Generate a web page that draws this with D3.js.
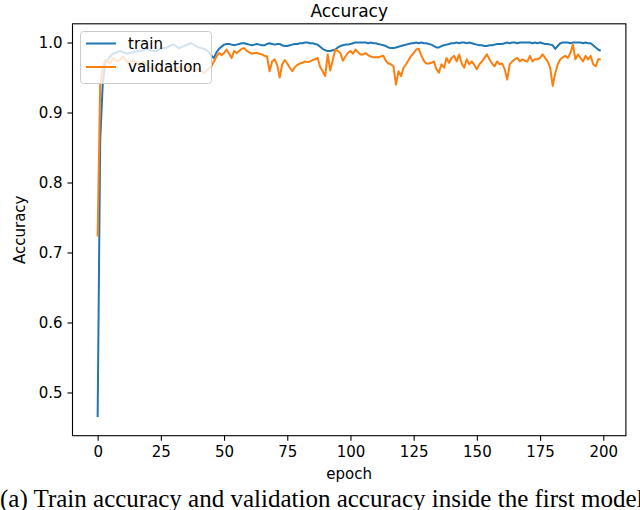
<!DOCTYPE html>
<html>
<head>
<meta charset="utf-8">
<script src="https://cdn.jsdelivr.net/npm/d3@7"></script>
<style>
  body { margin: 0; background: #fff; }
  svg { display: block; }
</style>
</head>
<body>
<svg id="chart" width="640" height="510"></svg>
<script>
// values, one per epoch (0..199)
const trainAcc = [
  0.465, 0.860, 0.940, 0.972, 0.975, 0.980, 0.984, 0.985, 0.987, 0.988,
  0.986, 0.985, 0.984, 0.985, 0.986, 0.987, 0.988, 0.988, 0.989, 0.990,
  0.990, 0.989, 0.988, 0.988, 0.989, 0.991, 0.992, 0.992, 0.994, 0.996,
  0.997, 0.995, 0.992, 0.993, 0.995, 0.996, 0.998, 0.999, 0.997, 0.995,
  0.993, 0.992, 0.991, 0.989, 0.986, 0.981, 0.978, 0.986, 0.991, 0.994,
  0.997, 0.998, 0.998, 0.997, 0.996, 0.997, 0.998, 0.999, 0.999, 0.998,
  0.997, 0.996, 0.997, 0.998, 0.997, 0.996, 0.996, 0.998, 0.999, 0.998,
  0.997, 0.998, 0.998, 0.996, 0.995, 0.995, 0.996, 0.997, 0.998, 0.998,
  0.999, 0.999, 1.000, 1.000, 0.999, 0.999, 0.998, 0.997, 0.994, 0.991,
  0.989, 0.988, 0.988, 0.989, 0.990, 0.993, 0.995, 0.996, 0.997, 0.997,
  0.998, 0.999, 1.000, 1.000, 1.000, 1.000, 1.000, 0.999, 1.000, 0.999,
  0.999, 0.998, 0.997, 0.996, 0.995, 0.993, 0.992, 0.992, 0.993, 0.994,
  0.995, 0.996, 0.997, 0.998, 0.999, 0.999, 1.000, 0.999, 1.000, 0.999,
  0.999, 0.998, 0.997, 0.995, 0.993, 0.993, 0.995, 0.996, 0.997, 0.998,
  0.999, 0.999, 1.000, 0.999, 1.000, 1.000, 0.999, 1.000, 0.999, 0.998,
  0.997, 0.996, 0.996, 0.995, 0.995, 0.996, 0.996, 0.997, 0.998, 0.998,
  0.998, 0.999, 1.000, 0.999, 1.000, 1.000, 0.999, 1.000, 1.000, 1.000,
  1.000, 1.000, 0.999, 1.000, 0.999, 1.000, 0.999, 0.998, 0.998, 0.997,
  0.996, 0.991, 0.995, 0.999, 1.000, 1.000, 1.000, 0.999, 1.000, 1.000,
  1.000, 1.000, 0.999, 1.000, 0.999, 0.999, 0.996, 0.993, 0.990, 0.988
]

const valAcc = [
  0.723, 0.940, 0.965, 0.975, 0.973, 0.970, 0.978, 0.975, 0.973, 0.976,
  0.980, 0.976, 0.971, 0.973, 0.975, 0.972, 0.968, 0.970, 0.973, 0.969,
  0.966, 0.963, 0.961, 0.964, 0.963, 0.961, 0.959, 0.962, 0.966, 0.963,
  0.959, 0.962, 0.965, 0.963, 0.961, 0.964, 0.966, 0.962, 0.959, 0.961,
  0.963, 0.960, 0.956, 0.960, 0.963, 0.966, 0.973, 0.980, 0.985, 0.982,
  0.985, 0.990, 0.984, 0.978, 0.988, 0.985, 0.988, 0.991, 0.992, 0.988,
  0.986, 0.984, 0.985, 0.985, 0.984, 0.983, 0.981, 0.980, 0.959, 0.973,
  0.976, 0.968, 0.950, 0.969, 0.975, 0.970, 0.964, 0.959, 0.965, 0.968,
  0.970, 0.971, 0.973, 0.972, 0.973, 0.975, 0.976, 0.978, 0.965, 0.959,
  0.952, 0.983, 0.960, 0.975, 0.990, 0.988, 0.985, 0.974, 0.980, 0.985,
  0.988, 0.984, 0.990, 0.986, 0.983, 0.983, 0.985, 0.982, 0.980, 0.979,
  0.979, 0.979, 0.980, 0.981, 0.974, 0.970, 0.969, 0.966, 0.940, 0.959,
  0.952, 0.964, 0.969, 0.975, 0.981, 0.985, 0.990, 0.991, 0.982, 0.974,
  0.970, 0.970, 0.971, 0.973, 0.962, 0.957, 0.969, 0.964, 0.978, 0.971,
  0.978, 0.981, 0.973, 0.983, 0.970, 0.964, 0.976, 0.969, 0.973, 0.968,
  0.962, 0.969, 0.973, 0.978, 0.983, 0.976, 0.970, 0.966, 0.973, 0.969,
  0.970, 0.962, 0.947, 0.969, 0.973, 0.976, 0.978, 0.973, 0.976, 0.974,
  0.973, 0.981, 0.973, 0.976, 0.976, 0.978, 0.983, 0.978, 0.973, 0.964,
  0.938, 0.956, 0.969, 0.976, 0.979, 0.981, 0.978, 0.985, 0.997, 0.976,
  0.983, 0.978, 0.973, 0.981, 0.976, 0.981, 0.969, 0.966, 0.976, 0.976
]

const xTicks = [0, 25, 50, 75, 100, 125, 150, 175, 200]
const yTicks = [0.5, 0.6, 0.7, 0.8, 0.9, 1.0]
const seriesNames = ["train", "validation"]
const seriesColors = ["#1f77b4", "#ff7f0e"]

const titleText = "Accuracy"
const xLabel = "epoch"
const yLabel = "Accuracy"
const captionText = "(a) Train accuracy and validation accuracy inside the first model"

const font = "DejaVu Sans, sans-serif"
const plot = { left: 72.5, right: 625.9, top: 23.8, bottom: 435.7 }

const svg = d3.select("#chart")
svg.append("rect").attr("width", 640).attr("height", 510).attr("fill", "white")

// matplotlib style 5% margins around the data
const nEpochs = trainAcc.length
const xPad = (nEpochs - 1) * 0.05
const allVals = trainAcc.concat(valAcc)
const yMin = d3.min(allVals), yMax = d3.max(allVals)
const yPad = (yMax - yMin) * 0.05

const x = d3.scaleLinear()
  .domain([-xPad, nEpochs - 1 + xPad])
  .range([plot.left, plot.right])
const y = d3.scaleLinear()
  .domain([yMin - yPad, yMax + yPad])
  .range([plot.bottom, plot.top])

/**
 * Draws one accuracy curve.
 */
function drawSeries (values, color) {
  const line = d3.line()
    .x((d, i) => x(i))
    .y(d => y(d))
  svg.append("path")
    .datum(values)
    .attr("fill", "none")
    .attr("stroke", color)
    .attr("stroke-width", 2)
    .attr("stroke-linejoin", "round")
    .attr("d", line)
}

const series = [trainAcc, valAcc]
series.forEach((vals, k) => drawSeries(vals, seriesColors[k]))

// axes
const xAxis = svg.append("g")
  .attr("transform", `translate(0,${plot.bottom})`)
  .call(d3.axisBottom(x).tickValues(xTicks).tickSize(5).tickPadding(6).tickSizeOuter(0))
const yAxis = svg.append("g")
  .attr("transform", `translate(${plot.left},0)`)
  .call(d3.axisLeft(y).tickValues(yTicks).tickFormat(d3.format(".1f")).tickSize(5).tickPadding(5).tickSizeOuter(0))

;[xAxis, yAxis].forEach(g => {
  g.select(".domain").remove()
  g.selectAll(".tick line").attr("stroke", "black").attr("stroke-width", 1.1)
  g.selectAll(".tick text")
    .attr("fill", "black")
    .style("font-family", font)
    .style("font-size", "15px")
})
xAxis.selectAll(".tick text").attr("dy", "0.71em")

// frame
svg.append("rect")
  .attr("x", plot.left).attr("y", plot.top)
  .attr("width", plot.right - plot.left).attr("height", plot.bottom - plot.top)
  .attr("fill", "none")
  .attr("stroke", "black")
  .attr("stroke-width", 1.1)

// labels
svg.append("text")
  .attr("x", (plot.left + plot.right) / 2).attr("y", 16.5)
  .attr("text-anchor", "middle")
  .style("font-family", font).style("font-size", "17px")
  .text(titleText)

svg.append("text")
  .attr("x", (plot.left + plot.right) / 2).attr("y", 479)
  .attr("text-anchor", "middle")
  .style("font-family", font).style("font-size", "15px")
  .text(xLabel)

svg.append("text")
  .attr("transform", `translate(24.5,${(plot.top + plot.bottom) / 2}) rotate(-90)`)
  .attr("text-anchor", "middle")
  .style("font-family", font).style("font-size", "15px")
  .text(yLabel)

// legend, upper left, semi transparent like matplotlib
const legend = svg.append("g")
legend.append("rect")
  .attr("x", 80.5).attr("y", 31.5)
  .attr("width", 131).attr("height", 52)
  .attr("rx", 3)
  .attr("fill", "white").attr("fill-opacity", 0.8)
  .attr("stroke", "#cccccc").attr("stroke-width", 1)

seriesNames.forEach((name, k) => {
  const cy = 43.5 + k * 23.5
  legend.append("line")
    .attr("x1", 86).attr("x2", 116)
    .attr("y1", cy).attr("y2", cy)
    .attr("stroke", seriesColors[k]).attr("stroke-width", 2)
  legend.append("text")
    .attr("x", 128).attr("y", cy + 5)
    .style("font-family", font).style("font-size", "15px")
    .text(name)
})

// figure caption under the chart, runs off the right edge as in the source
svg.append("text")
  .attr("x", 0).attr("y", 507)
  .style("font-family", "Liberation Serif, serif").style("font-size", "25px")
  .text(captionText)
</script>
</body>
</html>
